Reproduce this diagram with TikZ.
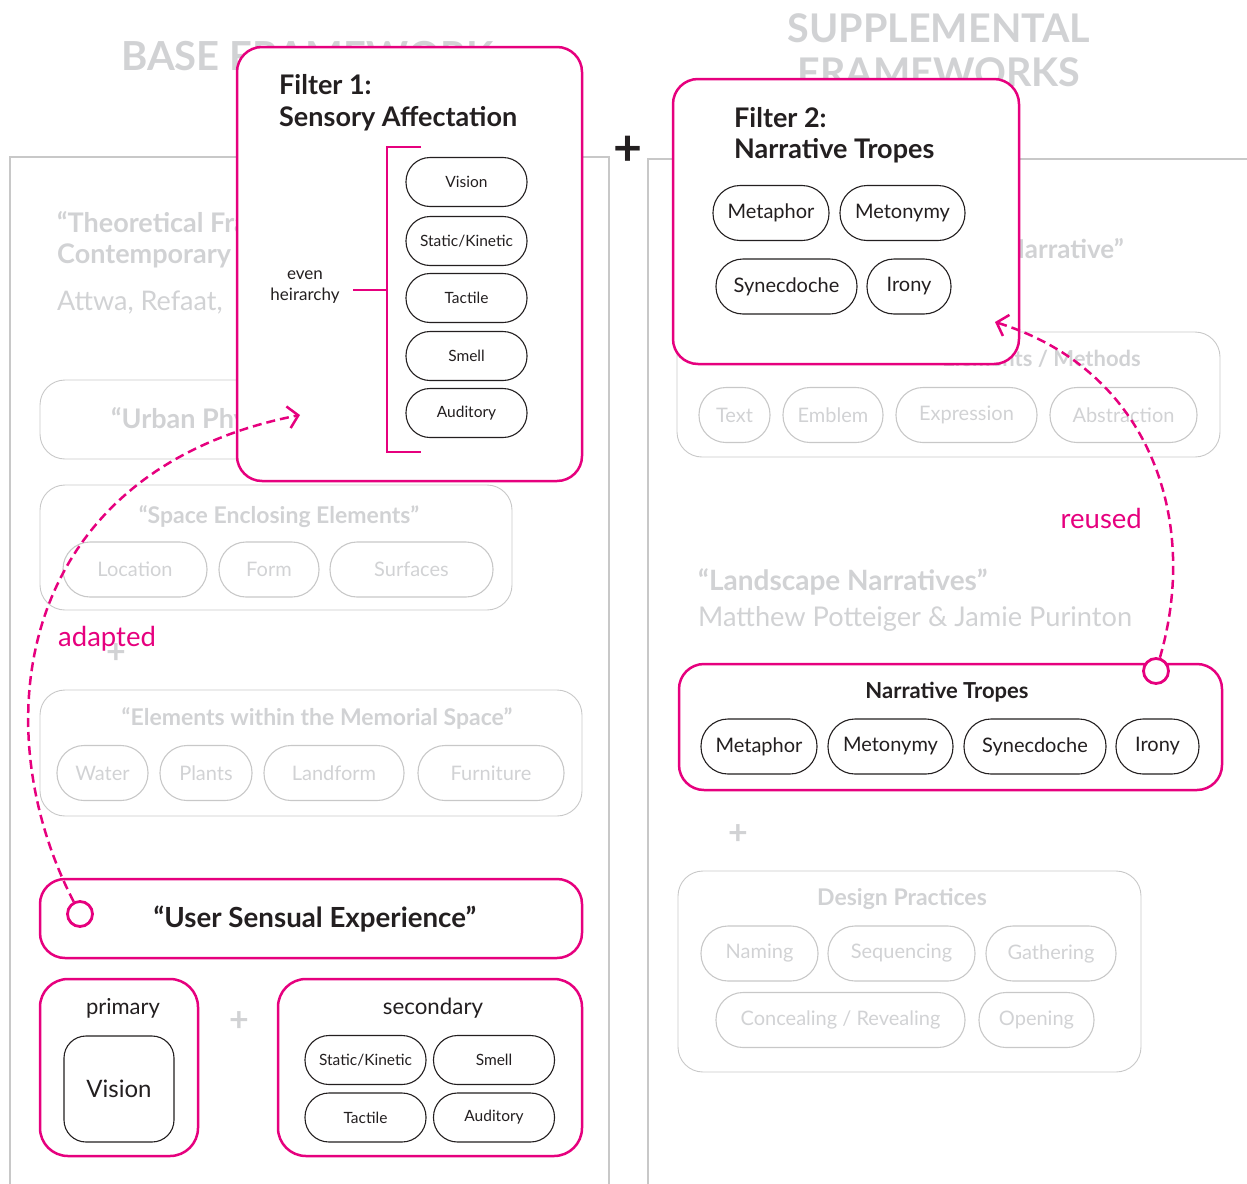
\documentclass[tikz,border=0pt]{standalone}
\usepackage{fontspec}
\setmainfont{Lato}
\usetikzlibrary{arrows.meta}
\definecolor{tropepink}{HTML}{E6007E}
\definecolor{fadegray}{HTML}{D1D2D4}
\definecolor{linegray}{HTML}{C8C8C8}
\definecolor{inkblack}{HTML}{231F20}
\newcommand{\pxfont}[1]{\fontsize{#1}{#1}\selectfont}
\tikzset{
  pinkbox/.style={draw=tropepink, line width=2.5pt, rounded corners=25pt, fill=white},
  fadebox/.style={draw=linegray, line width=0.9pt, rounded corners=25pt},
  panel/.style={draw=linegray, line width=2.5pt},
  smallpill/.style={draw=inkblack, line width=1.1pt, rounded corners=24pt, inner sep=0pt,
    minimum height=49pt, text=inkblack, font=\pxfont{15.5}},
  tropepill/.style={draw=inkblack, line width=1.1pt, rounded corners=27pt, inner sep=0pt,
    minimum height=55pt, text=inkblack, font=\pxfont{20}},
  fadepill/.style={draw=linegray, line width=1.1pt, rounded corners=27pt, inner sep=0pt,
    minimum height=55pt, text=fadegray, font=\pxfont{20}},
  fadetext/.style={text=fadegray, inner sep=0pt},
  inktext/.style={text=inkblack, inner sep=0pt},
  pinktext/.style={text=tropepink, inner sep=0pt, font=\pxfont{27.5}},
  fadeplus/.style={text=fadegray, inner sep=0pt, font=\pxfont{34}\bfseries},
  knob/.style={circle, draw=tropepink, line width=2.8pt, fill=white, minimum size=25pt, inner sep=0pt},
  trace/.style={draw=tropepink, line width=2.5pt, dash pattern=on 9pt off 5pt,
    -{Straight Barb[length=10pt,width=22pt]}},
}
\begin{document}
\begin{tikzpicture}[x=1pt,y=-1pt]
\useasboundingbox (0,0) rectangle (1247,1183);

% headings
\node[fadetext, anchor=base west, font=\pxfont{40}\bfseries] (basehead) at (121,70) {BASE FRAMEWORK};
\node[fadetext, anchor=base, font=\pxfont{39.5}\bfseries] (supphead) at (939,42) {SUPPLEMENTAL};
\node[fadetext, anchor=base, font=\pxfont{39.5}\bfseries] (supphead2) at (939,86) {FRAMEWORKS};

% the two panels
\draw[panel] (10,1200) -- (10,157) -- (609,157) -- (609,1200);
\draw[panel] (648,1200) -- (648,159) -- (1260,159);
\node[inktext, font=\pxfont{50}\bfseries] (join) at (628,151) {+};

% base framework, faded
\node[fadetext, anchor=base west, font=\pxfont{27}\bfseries] (theo) at (57,232) {“Theoretical Framework};
\node[fadetext, anchor=base west, font=\pxfont{27}\bfseries] (contemp) at (57,263) {Contemporary};
\node[fadetext, anchor=base west, font=\pxfont{27}] (attwa) at (57,310) {Attwa, Refaat,};

\draw[fadebox] (40,380) rectangle (570,459);
\node[fadetext, anchor=base west, font=\pxfont{27}\bfseries] (urban) at (111,428) {“Urban Physical”};

\draw[fadebox] (40,485) rectangle (512,610);
\node[fadetext, anchor=base, font=\pxfont{23}\bfseries] (spacehead) at (279,523) {“Space Enclosing Elements”};
\foreach \x/\w/\t [count=\i] in {135/144/Location, 269/100/Form, 411.5/163/Surfaces} % edit here for space pills
\node[fadepill, minimum width=\w pt] (space\i) at (\x,569.5) {\t};

\node[fadeplus] (plusa) at (116,654) {+};
\node[pinktext, anchor=base west] (adapted) at (58,646) {adapted};

\draw[fadebox] (40,690) rectangle (582,816);
\node[fadetext, anchor=base, font=\pxfont{23}\bfseries] (memhead) at (317,725) {“Elements within the Memorial Space”};
\foreach \x/\w/\t [count=\i] in {102.5/91/Water, 206/92/Plants, 334/140/Landform, 491/146/Furniture} % edit here for memorial pills
\node[fadepill, minimum width=\w pt] (mem\i) at (\x,773) {\t};

% supplemental frameworks, faded
\node[fadetext, anchor=base east, font=\pxfont{26}\bfseries] (narrhead) at (1124,258) {“Memory and Narrative”};
\draw[fadebox] (677,332) rectangle (1220,457);
\node[fadetext, anchor=base east, font=\pxfont{22}\bfseries] (methhead) at (1141,366) {Elements / Methods};
\foreach \x/\w/\t [count=\i] in {734.5/71/Text, 833/100/Emblem, 966.5/141/Expression, 1123.5/147/Abstraction} % edit here for method pills
\node[fadepill, minimum width=\w pt] (meth\i) at (\x,415) {\t};

\node[pinktext, anchor=base east] (reused) at (1142,528) {reused};
\node[fadetext, anchor=base west, font=\pxfont{28}\bfseries] (landhead) at (698,590) {“Landscape Narratives”};
\node[fadetext, anchor=base west, font=\pxfont{27.2}] (landauth) at (698,626) {Matthew Potteiger \& Jamie Purinton};

\node[fadeplus] (plusb) at (738,835) {+};

\draw[fadebox] (678,871) rectangle (1141,1072);
\node[fadetext, anchor=base, font=\pxfont{23}\bfseries] (designhead) at (902,905) {Design Practices};
\foreach \x/\w/\t [count=\i] in {759.5/117/Naming, 901.5/147/Sequencing, 1051/130/Gathering} % edit here for practice pills
\node[fadepill, minimum width=\w pt] (prac\i) at (\x,953.5) {\t};
\foreach \x/\w/\t [count=\i] in {840.5/249/{Concealing / Revealing}, 1036.5/115/Opening}
\node[fadepill, minimum width=\w pt] (pracb\i) at (\x,1020) {\t};

% filter 1
\draw[pinkbox] (237,47) rectangle (582,481);
\node[inktext, anchor=base west, font=\pxfont{27}\bfseries] (filtera) at (279,94) {Filter 1:};
\node[inktext, anchor=base west, font=\pxfont{27}\bfseries] (filterasub) at (279,126) {Sensory Affectation};
\node[inktext, anchor=base, font=\pxfont{17}] (even) at (305,279) {even};
\node[inktext, anchor=base, font=\pxfont{17}] (heir) at (305,300) {heirarchy};
\draw[tropepink, line width=2.5pt] (421,147) -- (387,147) -- (387,452) -- (421,452);
\draw[tropepink, line width=2.5pt] (353,290) -- (387,290);
\foreach \y/\t [count=\i] in {182/Vision, 241/{Static/Kinetic}, 298/Tactile, 356/Smell, 413/Auditory} % edit here for senses
\node[smallpill, minimum width=121pt] (sense\i) at (466.5,\y) {\t};

% filter 2
\draw[pinkbox] (673,79) rectangle (1019,364);
\node[inktext, anchor=base west, font=\pxfont{27}\bfseries] (filterb) at (734,127) {Filter 2:};
\node[inktext, anchor=base west, font=\pxfont{27}\bfseries] (filterbsub) at (734,158) {Narrative Tropes};
\foreach \x/\y/\w/\t [count=\i] in {771/213/116/Metaphor, 902.5/213/125/Metonymy, 786.5/286.5/141/Synecdoche, 909/286.5/84/Irony}
\node[tropepill, minimum width=\w pt] (tropea\i) at (\x,\y) {\t};

% narrative tropes
\draw[pinkbox] (679,664) rectangle (1222,790);
\node[inktext, anchor=base, font=\pxfont{22}\bfseries] (tropehead) at (947,698) {Narrative Tropes};
\foreach \x/\w/\t [count=\i] in {759/116/Metaphor, 890.5/125/Metonymy, 1035/142/Synecdoche, 1157.5/83/Irony} % edit here for tropes
\node[tropepill, minimum width=\w pt] (tropeb\i) at (\x,746.5) {\t};

% user sensual experience
\draw[pinkbox] (40,879) rectangle (582,958);
\node[inktext, anchor=base, font=\pxfont{27.7}\bfseries] (usehead) at (315,927) {“User Sensual Experience”};

\draw[pinkbox, rounded corners=28pt] (40,979) rectangle (198,1156);
\node[inktext, anchor=base, font=\pxfont{22}] (primary) at (123,1014) {primary};
\node[draw=inkblack, line width=1.1pt, rounded corners=22pt, minimum width=110pt, minimum height=106pt,
  inner sep=0pt, text=inkblack, font=\pxfont{24}] (primvision) at (119,1089) {Vision};

\node[fadeplus] (plusc) at (239,1022) {+};

\draw[pinkbox, rounded corners=28pt] (278,979) rectangle (582,1156);
\node[inktext, anchor=base, font=\pxfont{22.3}] (secondary) at (433,1014) {secondary};
\foreach \x/\y/\t [count=\i] in {365.5/1060/{Static/Kinetic}, 494/1060/Smell, 365.5/1117.5/Tactile, 494/1117.5/Auditory}
\node[smallpill, minimum width=121pt] (second\i) at (\x,\y) {\t};

% links
\node[knob] (usecirc) at (80,914) {};
\node[knob] (tropecirc) at (1156,671) {};
\coordinate (adaptend) at (300,415);
\coordinate (reuseend) at (995,322);
\draw[trace] (usecirc) .. controls (-20,720) and (20,470) .. (adaptend);
\draw[trace] (tropecirc) .. controls (1200,520) and (1150,370) .. (reuseend);
\end{tikzpicture}
\end{document}
